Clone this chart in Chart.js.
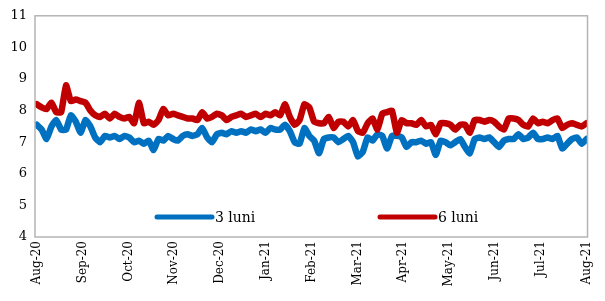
<!DOCTYPE html>
<html>
<head>
<meta charset="utf-8">
<script src="https://cdn.jsdelivr.net/npm/chart.js@4"></script>
<style>
  html, body { margin: 0; padding: 0; background: #fff; }
  #wrap { width: 605px; height: 301px; }
</style>
</head>
<body>
<div id="wrap"><canvas id="chart" width="605" height="301"></canvas></div>
<script>
const monthLabels = ["Aug-20", "Sep-20", "Oct-20", "Nov-20", "Dec-20", "Jan-21", "Feb-21",
    "Mar-21", "Apr-21", "May-21", "Jun-21", "Jul-21", "Aug-21"];

// 6 luni (approx. every few business days)
const luni6 = [
    8.2, 8.1, 8.05, 8.25, 7.95, 7.95, 8.8, 8.3, 8.35, 8.3,
    8.25, 8.0, 7.85, 7.8, 7.9, 7.75, 7.9, 7.8, 7.75, 7.8,
    7.6, 8.25, 7.6, 7.65, 7.55, 7.7, 8.05, 7.85, 7.9, 7.85,
    7.8, 7.75, 7.75, 7.7, 7.95, 7.75, 7.8, 7.9, 7.85, 7.7,
    7.8, 7.85, 7.9, 7.8, 7.85, 7.9, 7.8, 7.9, 7.85, 7.95,
    7.85, 8.2, 7.8, 7.55, 7.7, 8.2, 8.1, 7.65, 7.6, 7.6,
    7.8, 7.45, 7.65, 7.65, 7.5, 7.7, 7.35, 7.3, 7.6, 7.75,
    7.4, 7.9, 7.95, 8.0, 7.3, 7.7, 7.6, 7.6, 7.55, 7.7,
    7.5, 7.55, 7.25, 7.6, 7.6, 7.55, 7.4, 7.55, 7.55, 7.3,
    7.7, 7.7, 7.65, 7.7, 7.65, 7.5, 7.4, 7.75, 7.75, 7.7,
    7.55, 7.5, 7.75, 7.6, 7.65, 7.6, 7.7, 7.75, 7.45, 7.55,
    7.6, 7.55, 7.5, 7.6
];

// 3 luni
const luni3 = [
    7.55, 7.4, 7.1, 7.5, 7.7, 7.4, 7.4, 7.85, 7.65, 7.3,
    7.7, 7.5, 7.15, 7.0, 7.2, 7.15, 7.2, 7.1, 7.2, 7.15,
    7.0, 7.05, 6.95, 7.05, 6.75, 7.1, 7.05, 7.2, 7.1, 7.05,
    7.2, 7.25, 7.2, 7.25, 7.45, 7.15, 7.0, 7.25, 7.3, 7.25,
    7.35, 7.3, 7.35, 7.3, 7.4, 7.35, 7.4, 7.3, 7.45, 7.4,
    7.4, 7.55, 7.35, 7.0, 6.95, 7.45, 7.2, 7.05, 6.65, 7.1,
    7.15, 7.15, 7.0, 7.1, 7.2, 7.0, 6.55, 6.7, 7.15, 7.05,
    7.25, 7.2, 6.8, 7.2, 7.2, 7.15, 6.85, 7.0, 7.0, 7.05,
    6.95, 7.0, 6.6, 7.05, 7.0, 6.9, 7.0, 7.1, 6.85, 6.65,
    7.1, 7.15, 7.1, 7.15, 7.0, 6.85, 7.05, 7.1, 7.1, 7.25,
    7.1, 7.15, 7.3, 7.1, 7.1, 7.15, 7.1, 7.2, 6.8, 6.95,
    7.1, 7.15, 6.95, 7.1
];

const yTicks = [4, 5, 6, 7, 8, 9, 10, 11];

const serif = "'DejaVu Serif', Georgia, serif";
const BLUE = "#0070C0";
const RED = "#C00000";

// spread the points evenly over the 12 months
function toPoints(arr) {
    const step = 12 / (arr.length - 1);
    return arr.map((v, i) => ({ x: i * step, y: v }));
}

const frame = {
    id: "frame",
    afterDraw(chart) {
        const { ctx, chartArea: a } = chart;
        ctx.save();
        ctx.strokeStyle = "#b4b4b4";
        ctx.lineWidth = 1.5;
        ctx.strokeRect(a.left, a.top, a.right - a.left, a.bottom - a.top);

        // legend inside the plot
        const items = [
            { text: "3 luni", color: BLUE, x: a.left + 122 },
            { text: "6 luni", color: RED, x: a.left + 345 }
        ];
        const y = a.bottom - 20;
        ctx.lineCap = "round";
        ctx.lineWidth = 5;
        ctx.font = "14px " + serif;
        ctx.textBaseline = "middle";
        ctx.fillStyle = "#000";
        items.forEach(it => {
            ctx.strokeStyle = it.color;
            ctx.beginPath();
            ctx.moveTo(it.x, y);
            ctx.lineTo(it.x + 55, y);
            ctx.stroke();
            ctx.fillText(it.text, it.x + 58, y + 1);
        });
        ctx.restore();
    }
};

new Chart(document.getElementById("chart"), {
    type: "line",
    data: {
        datasets: [
            { label: "3 luni", data: toPoints(luni3), borderColor: BLUE, backgroundColor: BLUE, order: 1 },
            { label: "6 luni", data: toPoints(luni6), borderColor: RED, backgroundColor: RED, order: 0 }
        ]
    },
    options: {
        animation: false,
        responsive: false,
        layout: { padding: { top: 13, right: 2, left: 0, bottom: 0 } },
        elements: {
            point: { radius: 0 },
            line: { borderWidth: 6.5, tension: 0.15, borderCapStyle: "round", borderJoinStyle: "round" }
        },
        plugins: { legend: { display: false }, tooltip: { enabled: false } },
        scales: {
            x: {
                type: "linear",
                min: -0.04,
                max: 12.02,
                grid: { display: false, drawTicks: false },
                border: { display: false },
                afterBuildTicks: s => { s.ticks = monthLabels.map((m, k) => ({ value: k })); },
                afterFit: s => { s.height = 64; },
                ticks: {
                    autoSkip: false,
                    minRotation: 90,
                    maxRotation: 90,
                    padding: 4,
                    color: "#000",
                    font: { family: serif, size: 12 },
                    callback: v => monthLabels[Math.round(v)]
                }
            },
            y: {
                min: 4,
                max: 11,
                grid: { display: false, drawTicks: false },
                border: { display: false },
                afterBuildTicks: s => { s.ticks = yTicks.map(v => ({ value: v })); },
                afterFit: s => { s.width = 35; },
                ticks: {
                    padding: 8,
                    color: "#000",
                    font: { family: serif, size: 13 }
                }
            }
        }
    },
    plugins: [frame]
});
</script>
</body>
</html>
